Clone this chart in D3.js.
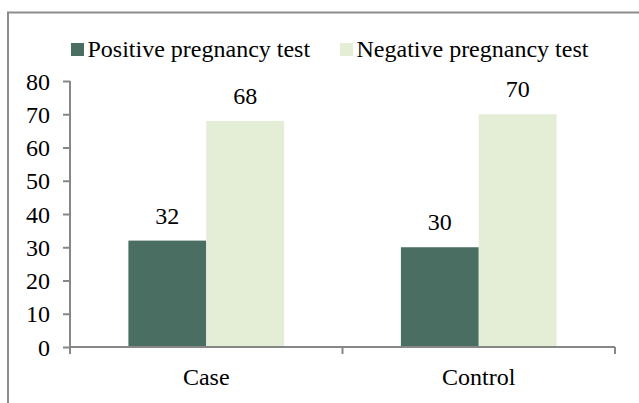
<!DOCTYPE html>
<html>
<head>
<meta charset="utf-8">
<script src="https://cdn.jsdelivr.net/npm/d3@7"></script>
<style>
  body { margin: 0; background: #fff; }
  .axis path, .axis line { stroke: #878787; stroke-width: 2; }
</style>
</head>
<body>
<script>
const categories = ['Case', 'Control'];
const series = ['Positive pregnancy test', 'Negative pregnancy test'];
const positive = [32, 30];
const negative = [68, 70];
const yTicks = [0, 10, 20, 30, 40, 50, 60, 70, 80];
const colors = ['#4a6f62', '#e4edd6'];

const width = 639,
  height = 403;
const margin = { left: 70, right: 24, top: 81, bottom: 56 };
const font = '"Liberation Serif"';
const fontSize = '24px';

const rows = categories.map((c, i) => ({ cat: c, values: [positive[i], negative[i]] }));

const svg = d3.select('body').append('svg')
    .attr('width', width)
    .attr('height', height)
    .style('display', 'block');

// outer frame (cut off at right and bottom like the reference)
svg.append('rect')
    .attr('x', 8)
    .attr('y', 12.5)
    .attr('width', 700)
    .attr('height', 500)
    .attr('fill', 'none')
    .attr('stroke', '#8c8c8c')
    .attr('stroke-width', 2);

const x0 = d3.scaleBand()
    .domain(categories)
    .range([margin.left, width - margin.right]);

const x1 = d3.scaleBand()
    .domain(series)
    .range([0, x0.bandwidth()])
    .paddingOuter(0.75);

const y = d3.scaleLinear()
    .domain([0, 80])
    .range([height - margin.bottom, margin.top]);

const color = d3.scaleOrdinal().domain(series).range(colors);

// bars
const group = svg.selectAll('.group')
    .data(rows)
  .enter().append('g')
    .attr('class', 'group')
    .attr('transform', (d) => `translate(${x0(d.cat)},0)`);

group.selectAll('rect')
    .data((d) => d.values.map((v, i) => ({ key: series[i], v })))
  .enter().append('rect')
    .attr('x', (d) => x1(d.key))
    .attr('y', (d) => y(d.v))
    .attr('width', x1.bandwidth())
    .attr('height', (d) => y(0) - y(d.v))
    .attr('fill', (d) => color(d.key));

group.selectAll('.val')
    .data((d) => d.values.map((v, i) => ({ key: series[i], v })))
  .enter().append('text')
    .attr('class', 'val')
    .attr('x', (d) => x1(d.key) + x1.bandwidth() / 2)
    .attr('y', (d) => y(d.v) - 17)
    .attr('text-anchor', 'middle')
    .style('font-family', font)
    .style('font-size', fontSize)
    .text((d) => d.v);

// y axis
const yAxis = d3.axisLeft(y).tickValues(yTicks).tickSize(7).tickPadding(13);
svg.append('g')
    .attr('class', 'axis')
    .attr('transform', `translate(${margin.left},0)`)
    .call(yAxis)
    .call((g) => g.select('.domain').attr('d', `M0,${y(80)}V${y(0)}`))
    .call((g) => g.selectAll('text')
        .attr('dy', '0.34em')
        .attr('fill', '#000')
        .style('font-family', font)
        .style('font-size', fontSize));

// x axis, ticks between categories
const xEdges = [margin.left, ...categories.map((c) => x0(c) + x0.bandwidth())];
const xg = svg.append('g')
    .attr('class', 'axis')
    .attr('transform', `translate(0,${y(0)})`);
xg.append('path')
    .attr('d', `M${margin.left},0H${width - margin.right}`)
    .attr('fill', 'none');
xg.selectAll('line')
    .data(xEdges)
  .enter().append('line')
    .attr('x1', (d) => d)
    .attr('x2', (d) => d)
    .attr('y1', 0)
    .attr('y2', 7);
xg.selectAll('text')
    .data(categories)
  .enter().append('text')
    .attr('x', (d) => x0(d) + x0.bandwidth() / 2)
    .attr('y', 38)
    .attr('text-anchor', 'middle')
    .style('font-family', font)
    .style('font-size', fontSize)
    .text((d) => d);

// legend
const legendX = [71, 340];
const legend = svg.selectAll('.legend')
    .data(series)
  .enter().append('g')
    .attr('class', 'legend')
    .attr('transform', (d, i) => `translate(${legendX[i]},43)`);
legend.append('rect')
    .attr('width', 13)
    .attr('height', 13)
    .attr('fill', (d) => color(d));
legend.append('text')
    .attr('x', 16.5)
    .attr('y', 13.5)
    .style('font-family', font)
    .style('font-size', fontSize)
    .text((d) => d);
</script>
</body>
</html>
